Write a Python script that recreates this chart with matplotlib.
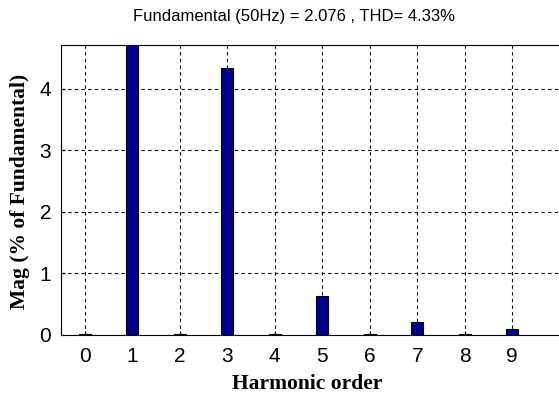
import numpy as np
import matplotlib.pyplot as plt

# harmonic spectrum, magnitude in % of fundamental
ORDERS = [0, 1, 2, 3, 4, 5, 6, 7, 8, 9]
MAG = [0.02, 100.0, 0.02, 4.33, 0.02, 0.63, 0.02, 0.21, 0.02, 0.09]
TITLE = "Fundamental (50Hz) = 2.076 , THD= 4.33%"

W, H = 559, 397
BAR_COLOR = "#00008b"

fig = plt.figure(figsize=(W / 100, H / 100), dpi=100)
# axes runs off the right edge of the canvas
left, right = 61, 61 + 11 * 47.5
top, bottom = 45, 335
ax = fig.add_axes([left / W, (H - bottom) / H, (right - left) / W, (bottom - top) / H])

ax.bar(ORDERS, MAG, width=0.26, color=BAR_COLOR, edgecolor="black", linewidth=0.8, zorder=3)
ax.set_xlim(-0.5, 10.5)
ax.set_ylim(0, 4.71)
ax.set_xticks(ORDERS)
ax.set_yticks([0, 1, 2, 3, 4])
ax.tick_params(labelsize=15, length=3, direction="in")
ax.tick_params(axis="x", pad=9)
ax.tick_params(axis="y", pad=7)
for lbl in ax.get_xticklabels() + ax.get_yticklabels():
    lbl.set_family("Liberation Sans")
ax.grid(True, color="black", linestyle=(0, (3, 3)), linewidth=0.8, zorder=0)
ax.spines["right"].set_visible(False)

fig.text(294 / W, 1 - 16 / H, TITLE, ha="center", va="center", fontsize=12, family="Liberation Sans")
fig.text(307 / W, 1 - 384 / H, "Harmonic order", ha="center", va="center",
         fontsize=15.5, fontweight="bold", family="Liberation Serif")
fig.text(20 / W, 1 - 191 / H, "Mag (% of Fundamental)", ha="center", va="center", rotation=90,
         fontsize=15.5, fontweight="bold", family="Liberation Serif")

fig.savefig("out.png", dpi=100)
